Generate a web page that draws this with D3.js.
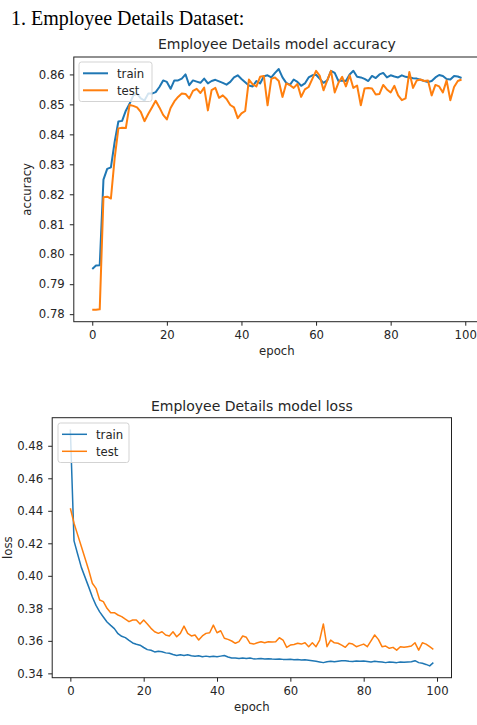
<!DOCTYPE html>
<html>
<head>
<meta charset="utf-8">
<script src="https://cdn.jsdelivr.net/npm/d3@7"></script>
<style>
body { margin: 0; background: #fff; }
svg text { font-family: "DejaVu Sans", sans-serif; fill: #262626; }
</style>
</head>
<body>
<div id="chart"></div>
<script>
// tick labels
var epochTicks = [0, 20, 40, 60, 80, 100];
var accTicks = [0.78, 0.79, 0.80, 0.81, 0.82, 0.83, 0.84, 0.85, 0.86];
var lossTicks = [0.34, 0.36, 0.38, 0.40, 0.42, 0.44, 0.46, 0.48];
var seriesNames = ["train", "test"];

// accuracy per epoch
var accTrain = [0.7951,0.7962,0.7963,0.8249,0.8285,0.8290,0.8375,0.8443,0.8445,0.8479,
0.8502,0.8530,0.8536,0.8520,0.8513,0.8536,0.8536,0.8541,0.8558,0.8580,
0.8575,0.8552,0.8580,0.8580,0.8586,0.8600,0.8564,0.8580,0.8576,0.8572,
0.8586,0.8570,0.8578,0.8582,0.8577,0.8572,0.8566,0.8575,0.8590,0.8597,
0.8585,0.8574,0.8563,0.8560,0.8578,0.8570,0.8594,0.8597,0.8590,0.8605,
0.8618,0.8590,0.8572,0.8565,0.8583,0.8575,0.8562,0.8570,0.8590,0.8597,
0.8599,0.8585,0.8572,0.8580,0.8612,0.8605,0.8578,0.8580,0.8578,0.8600,
0.8612,0.8592,0.8590,0.8585,0.8578,0.8595,0.8588,0.8600,0.8605,0.8590,
0.8597,0.8593,0.8590,0.8597,0.8592,0.8590,0.8587,0.8586,0.8582,0.8578,
0.8575,0.8578,0.8590,0.8598,0.8595,0.8585,0.8583,0.8595,0.8593,0.8588];

var accTest = [0.7815,0.7815,0.7816,0.8190,0.8192,0.8186,0.8320,0.8420,0.8422,0.8421,
0.8498,0.8495,0.8490,0.8475,0.8444,0.8468,0.8490,0.8512,0.8490,0.8465,
0.8450,0.8488,0.8510,0.8525,0.8536,0.8535,0.8520,0.8545,0.8552,0.8538,
0.8556,0.8480,0.8548,0.8555,0.8522,0.8530,0.8518,0.8498,0.8490,0.8454,
0.8470,0.8478,0.8583,0.8567,0.8560,0.8592,0.8595,0.8497,0.8585,0.8590,
0.8578,0.8525,0.8570,0.8564,0.8555,0.8568,0.8525,0.8550,0.8558,0.8585,
0.8612,0.8595,0.8547,0.8580,0.8612,0.8540,0.8572,0.8592,0.8560,0.8597,
0.8555,0.8563,0.8497,0.8553,0.8555,0.8553,0.8533,0.8535,0.8565,0.8550,
0.8540,0.8562,0.8530,0.8514,0.8520,0.8608,0.8555,0.8580,0.8583,0.8578,
0.8580,0.8530,0.8565,0.8560,0.8540,0.8580,0.8514,0.8558,0.8578,0.8583];

// loss per epoch
var lossTrain = [0.4900,0.4215,0.4133,0.4052,0.3992,0.3932,0.3870,0.3818,0.3778,0.3747,
0.3716,0.3695,0.3675,0.3644,0.3628,0.3620,0.3603,0.3587,0.3579,0.3573,
0.3559,0.3546,0.3542,0.3532,0.3536,0.3533,0.3526,0.3524,0.3516,0.3510,
0.3514,0.3510,0.3514,0.3508,0.3506,0.3508,0.3502,0.3506,0.3502,0.3505,
0.3502,0.3506,0.3510,0.3501,0.3494,0.3495,0.3492,0.3494,0.3491,0.3495,
0.3489,0.3490,0.3492,0.3489,0.3490,0.3488,0.3487,0.3489,0.3486,0.3485,
0.3487,0.3484,0.3485,0.3482,0.3483,0.3480,0.3477,0.3474,0.3470,0.3466,
0.3472,0.3475,0.3471,0.3474,0.3477,0.3478,0.3475,0.3473,0.3476,0.3474,
0.3476,0.3473,0.3470,0.3474,0.3472,0.3470,0.3466,0.3470,0.3468,0.3466,
0.3470,0.3468,0.3470,0.3472,0.3478,0.3466,0.3462,0.3455,0.3446,0.3466];

var lossTest = [0.4416,0.4324,0.4252,0.4180,0.4108,0.4036,0.3954,0.3923,0.3851,0.3841,
0.3800,0.3773,0.3773,0.3759,0.3749,0.3733,0.3718,0.3728,0.3728,0.3704,
0.3728,0.3704,0.3677,0.3656,0.3646,0.3656,0.3636,0.3630,0.3656,0.3625,
0.3646,0.3691,0.3646,0.3630,0.3636,0.3605,0.3630,0.3646,0.3650,0.3697,
0.3650,0.3662,0.3616,0.3609,0.3599,0.3585,0.3595,0.3630,0.3622,0.3585,
0.3580,0.3588,0.3595,0.3588,0.3595,0.3593,0.3595,0.3619,0.3605,0.3560,
0.3574,0.3578,0.3585,0.3580,0.3588,0.3564,0.3588,0.3564,0.3605,0.3704,
0.3564,0.3605,0.3588,0.3585,0.3574,0.3560,0.3585,0.3580,0.3564,0.3572,
0.3580,0.3564,0.3600,0.3636,0.3609,0.3564,0.3568,0.3554,0.3560,0.3543,
0.3564,0.3560,0.3564,0.3568,0.3588,0.3543,0.3588,0.3580,0.3564,0.3548];

var width = 477;
var height = 725;
var colors = ["#1f77b4", "#ff7f0e"];

var svg = d3.select("#chart")
  .append("svg")
    .attr("width", width)
    .attr("height", height);

svg.append("text")
  .attr("x", 11)
  .attr("y", 25)
  .style("font-family", '"Liberation Serif", "Times New Roman", serif')
  .style("font-size", "20px")
  .style("fill", "#000")
  .text("1. Employee Details Dataset:");

function drawPanel(p) {
  var n = p.series[0].length;
  // matplotlib style 5% margins
  var ext = d3.extent(p.series[0].concat(p.series[1]));
  var pad = (ext[1] - ext[0]) * 0.05;
  var xScale = d3.scaleLinear()
    .domain([-(n - 1) * 0.05, (n - 1) * 1.05])
    .range([p.left, p.right]);
  var yScale = d3.scaleLinear()
    .domain([ext[0] - pad, ext[1] + pad])
    .range([p.bottom, p.top]);

  var g = svg.append("g");

  var line = d3.line()
    .x(function (d, i) { return xScale(i); })
    .y(function (d) { return yScale(d); });

  p.series.forEach(function (s, k) {
    g.append("path")
      .datum(s)
      .attr("fill", "none")
      .attr("stroke", colors[k])
      .attr("stroke-width", p.lw)
      .attr("stroke-linejoin", "round")
      .attr("d", line);
  });

  var xAxis = g.append("g")
    .attr("transform", "translate(0," + p.bottom + ")")
    .call(d3.axisBottom(xScale).tickValues(epochTicks).tickSize(4).tickPadding(5.5));
  var yAxis = g.append("g")
    .attr("transform", "translate(" + p.left + ",0)")
    .call(d3.axisLeft(yScale).tickValues(p.ticks).tickFormat(d3.format(".2f")).tickSize(4).tickPadding(5));
  [xAxis, yAxis].forEach(function (a) {
    a.select(".domain").remove();
    a.selectAll("line").attr("stroke", "#222");
    a.selectAll("text")
      .style("font-family", '"DejaVu Sans", sans-serif')
      .style("font-size", "11.7px")
      .attr("fill", "#2a2a2a");
  });

  // spines
  g.append("rect")
    .attr("x", p.left)
    .attr("y", p.top)
    .attr("width", p.right - p.left)
    .attr("height", p.bottom - p.top)
    .attr("fill", "none")
    .attr("stroke", "#222")
    .attr("stroke-width", 1);

  g.append("text")
    .attr("x", (p.left + p.right) / 2)
    .attr("y", p.titleY)
    .attr("text-anchor", "middle")
    .style("font-size", "14px")
    .text(p.title);

  g.append("text")
    .attr("x", (p.left + p.right) / 2)
    .attr("y", p.xlabelY)
    .attr("text-anchor", "middle")
    .style("font-size", "11.7px")
    .text("epoch");

  g.append("text")
    .attr("transform", "translate(" + p.ylabelX + "," + (p.top + p.bottom) / 2 + ") rotate(-90)")
    .attr("text-anchor", "middle")
    .style("font-size", "11.7px")
    .text(p.ylabel);

  // legend
  var lg = g.append("g").attr("transform", "translate(" + p.legX + "," + p.legY + ")");
  lg.append("rect")
    .attr("width", p.legW)
    .attr("height", 39.5)
    .attr("rx", 2.5)
    .attr("fill", "#fff")
    .attr("fill-opacity", 0.8)
    .attr("stroke", "#d3d3d3")
    .attr("stroke-width", 1);
  seriesNames.forEach(function (name, k) {
    var ly = 11.3 + k * 17;
    lg.append("line")
      .attr("x1", 4).attr("x2", 29)
      .attr("y1", ly).attr("y2", ly)
      .attr("stroke", colors[k])
      .attr("stroke-width", p.lw);
    lg.append("text")
      .attr("x", 38)
      .attr("y", ly + 4.2)
      .style("font-size", "11.7px")
      .text(name);
  });
}

drawPanel({
  series: [accTrain, accTest],
  ticks: accTicks,
  left: 73.8, right: 480, top: 57, bottom: 321.7,
  title: "Employee Details model accuracy", titleY: 49,
  ylabel: "accuracy", ylabelX: 31,
  xlabelY: 355,
  legX: 79, legY: 62, legW: 73,
  lw: 2
});

drawPanel({
  series: [lossTrain, lossTest],
  ticks: lossTicks,
  left: 52.2, right: 451.5, top: 417.7, bottom: 677.7,
  title: "Employee Details model loss", titleY: 411,
  ylabel: "loss", ylabelX: 11.5,
  xlabelY: 711,
  legX: 58, legY: 423, legW: 71,
  lw: 1.5
});
</script>
</body>
</html>
